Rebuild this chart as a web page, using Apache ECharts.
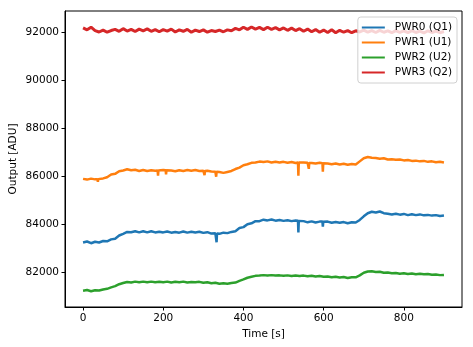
<!DOCTYPE html>
<html>
<head>
<meta charset="utf-8">
<script src="https://cdn.jsdelivr.net/npm/echarts@6/dist/echarts.min.js"></script>
<style>html,body{margin:0;padding:0;background:#fff}#c{width:473px;height:347px}</style>
</head>
<body>
<div id="c"></div>
<script>
const seriesNames = ['PWR0 (Q1)', 'PWR1 (U1)', 'PWR2 (U2)', 'PWR3 (Q2)'];
const seriesColors = ['#1f77b4', '#ff7f0e', '#2ca02c', '#d62728'];
const xTicks = [0, 200, 400, 600, 800];
const yTicks = [82000, 84000, 86000, 88000, 90000, 92000];

const times = [
  0,10,20,30,40,50,60,70,80,90,
  100,110,120,130,140,150,160,170,180,190,
  200,210,220,230,240,250,260,270,280,290,
  300,310,320,330,340,350,360,370,380,390,
  400,410,420,430,440,450,460,470,480,490,
  500,510,520,530,540,550,560,570,580,590,
  600,610,620,630,640,650,660,670,680,690,
  700,710,720,730,740,750,760,770,780,790,
  800,810,820,830,840,850,860,870,880,890,
  900
];

const pwr0 = [
  83230,83270,83200,83260,83230,83290,83280,83360,83390,83520,
  83590,83670,83660,83700,83650,83700,83650,83700,83650,83680,
  83650,83690,83640,83670,83640,83690,83640,83680,83650,83680,
  83630,83660,83600,83610,83590,83640,83620,83670,83700,83830,
  83870,83990,84030,84120,84120,84180,84150,84190,84140,84170,
  84130,84160,84120,84150,84130,84120,84070,84110,84060,84100,
  84080,84100,84050,84080,84050,84080,84030,84070,84060,84170,
  84320,84450,84510,84480,84520,84450,84430,84400,84430,84390,
  84420,84370,84410,84370,84400,84360,84380,84350,84370,84330,
  84350
];

const pwr1 = [
  85880,85850,85890,85860,85870,85900,85950,86060,86090,86200,
  86230,86280,86240,86260,86210,86250,86210,86240,86220,86230,
  86250,86240,86230,86200,86240,86210,86250,86220,86250,86210,
  86220,86220,86190,86180,86170,86130,86170,86210,86290,86350,
  86450,86490,86550,86560,86600,86580,86610,86560,86590,86560,
  86590,86550,86580,86540,86560,86560,86550,86540,86520,86550,
  86520,86520,86490,86520,86480,86510,86470,86500,86480,86610,
  86740,86790,86760,86750,86720,86740,86690,86700,86680,86690,
  86650,86670,86630,86640,86610,86630,86590,86610,86570,86590,
  86560
];

const pwr2 = [
  81220,81250,81200,81240,81230,81270,81300,81360,81410,81490,
  81540,81580,81560,81600,81570,81600,81570,81600,81570,81590,
  81570,81600,81560,81590,81570,81600,81560,81580,81570,81590,
  81550,81570,81530,81550,81510,81530,81510,81540,81560,81630,
  81690,81760,81800,81840,81850,81870,81850,81870,81850,81860,
  81840,81860,81830,81850,81830,81850,81820,81840,81810,81830,
  81800,81810,81780,81800,81770,81790,81750,81780,81780,81860,
  81970,82020,82030,82000,82010,81970,81980,81950,81960,81930,
  81950,81920,81940,81910,81930,81910,81920,81890,81900,81870,
  81880
];

const pwr3 = [
  92170,92090,92200,92060,92000,92080,91990,92060,92110,92030,
  92140,92040,92110,92020,92120,92050,92130,92030,92100,92010,
  92100,92040,92120,92000,92090,92030,92110,91990,92080,92020,
  92090,91990,92060,92020,92080,92010,92090,92050,92150,92090,
  92200,92110,92210,92120,92190,92100,92200,92110,92180,92090,
  92170,92070,92160,92060,92140,92030,92120,92010,92100,91990,
  92080,91980,92090,91970,92070,91990,92060,91970,92050,92000,
  92080,91990,92060,91980,92070,91990,92050,91970,92060,91980,
  92050,91970,92060,91980,92040,91960,92050,91980,92040,91970,
  92020
];

// single-sample glitches (time, value)
const pwr0Spikes = [
  [332, 83620], [333, 83240], [334, 83610],
  [536, 84140], [537, 83650], [538, 84130],
  [597, 84100], [598, 83890], [599, 84090]
];
const pwr1Spikes = [
  [36, 85870], [37, 85760], [38, 85870],
  [186, 86230], [187, 86010], [188, 86230],
  [206, 86240], [207, 86070], [208, 86240],
  [302, 86210], [303, 86040], [304, 86210],
  [331, 86180], [332, 85970], [333, 86180],
  [536, 86560], [537, 86010], [538, 86560],
  [562, 86540], [563, 86300], [564, 86540],
  [597, 86530], [598, 86180], [599, 86530]
];
const pwr2Spikes = [];
const pwr3Spikes = [];

const seriesValues = [pwr0, pwr1, pwr2, pwr3];
const seriesSpikes = [pwr0Spikes, pwr1Spikes, pwr2Spikes, pwr3Spikes];
const seriesWidths = [2.5, 2.5, 2.5, 3];
const FONT = 'DejaVu Sans';

function buildData(i) {
  const pts = times.map((t, j) => [t, seriesValues[i][j]]).concat(seriesSpikes[i]);
  pts.sort((a, b) => a[0] - b[0]);
  return pts;
}

const chart = echarts.init(document.getElementById('c'), null, {renderer: 'canvas'});
chart.setOption({
  animation: false,
  backgroundColor: '#fff',
  textStyle: {fontFamily: FONT},
  grid: {left: 65, right: 11, top: 11, bottom: 40, containLabel: false, outerBoundsMode: 'none',
         show: true, borderColor: '#000', borderWidth: 1, backgroundColor: 'transparent'},
  legend: {
    orient: 'vertical', right: 16, top: 17,
    data: seriesNames.map(n => ({name: n, icon: 'rect'})),
    itemWidth: 23, itemHeight: 2, itemGap: 4,
    padding: [5, 5, 5, 4],
    backgroundColor: 'rgba(255,255,255,0.8)',
    borderColor: '#d0d0d0', borderWidth: 1, borderRadius: 3,
    textStyle: {fontFamily: FONT, fontSize: 10.5, color: '#000', padding: [0, 0, 0, 5], lineHeight: 11}
  },
  xAxis: {
    type: 'value', min: -45, max: 945,
    name: 'Time [s]', nameLocation: 'middle', nameGap: 22, nameMoveOverlap: false,
    nameTextStyle: {fontFamily: FONT, fontSize: 10.5, color: '#000'},
    splitLine: {show: false},
    axisLine: {show: true, onZero: false, lineStyle: {color: '#000', width: 1}},
    axisTick: {show: true, length: 3.5, lineStyle: {color: '#000'}, customValues: xTicks},
    axisLabel: {fontFamily: FONT, fontSize: 10.5, color: '#000', margin: 6, customValues: xTicks,
                formatter: v => String(v)}
  },
  yAxis: {
    type: 'value', min: 80542, max: 92875,
    name: 'Output [ADU]', nameLocation: 'middle', nameGap: 46, nameRotate: 90, nameMoveOverlap: false,
    nameTextStyle: {fontFamily: FONT, fontSize: 10.5, color: '#000'},
    splitLine: {show: false},
    axisLine: {show: true, onZero: false, lineStyle: {color: '#000', width: 1}},
    axisTick: {show: true, length: 3.5, lineStyle: {color: '#000'}, customValues: yTicks},
    axisLabel: {fontFamily: FONT, fontSize: 10.5, color: '#000', margin: 6, customValues: yTicks,
                formatter: v => String(v)}
  },
  series: seriesNames.map((n, i) => ({
    name: n, type: 'line', showSymbol: false, symbol: 'none',
    color: seriesColors[i],
    lineStyle: {width: seriesWidths[i], color: seriesColors[i]},
    data: buildData(i)
  }))
});
</script>
</body>
</html>
